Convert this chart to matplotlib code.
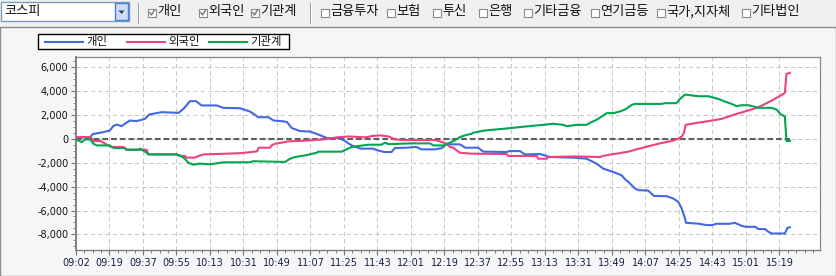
import matplotlib
matplotlib.use('Agg')
import matplotlib.pyplot as plt
from matplotlib.patches import Rectangle, Polygon
from matplotlib.lines import Line2D
from matplotlib.ticker import MultipleLocator, FuncFormatter

plt.rcParams['font.family'] = ['Noto Sans CJK KR', 'DejaVu Sans']

# ---- data ----
market = '코스피'
checked_items = ['개인', '외국인', '기관계']
unchecked_items = ['금융투자', '보험', '투신', '은행', '기타금융', '연기금등', '국가,지자체', '기타법인']

time_labels = ['09:02', '09:19', '09:37', '09:55', '10:13', '10:31', '10:49', '11:07',
               '11:25', '11:43', '12:01', '12:19', '12:37', '12:55', '13:13', '13:31',
               '13:49', '14:07', '14:25', '14:43', '15:01', '15:19']

series_names = ['개인', '외국인', '기관계']
series_colors = ['#4169e1', '#f0407f', '#00a651']

# x in units of tick-label intervals (0 = 09:02)
person_x = [0.0, 0.42, 0.5, 0.82, 1.01, 1.11, 1.21, 1.36, 1.46, 1.61, 1.81, 2.06, 2.19, 2.56,
            3.06, 3.21, 3.4, 3.58, 3.75, 4.2, 4.4, 4.89, 5.19, 5.34, 5.44, 5.74, 5.9, 6.2,
            6.3, 6.44, 6.69, 6.99, 7.3, 7.5, 7.87, 8.0, 8.23, 8.5, 8.87, 9.0, 9.2, 9.42,
            9.52, 9.85, 10.15, 10.32, 10.72, 10.92, 11.05, 11.46, 11.62, 12.0, 12.16, 12.85,
            12.95, 13.25, 13.4, 13.85, 14.15, 14.85, 15.24, 15.54, 15.74, 16.04, 16.29,
            16.39, 16.49, 16.69, 16.8, 17.08, 17.25, 17.63, 17.83, 17.98, 18.08, 18.18,
            18.21, 18.58, 18.83, 19.0, 19.1, 19.5, 19.67, 19.87, 20.0, 20.27, 20.37, 20.57,
            20.67, 20.77, 21.16, 21.24, 21.31]
person_y = [110, 110, 390, 550, 690, 1050, 1190, 1050, 1250, 1520, 1470, 1660, 2030, 2220,
            2160, 2500, 3140, 3140, 2780, 2780, 2580, 2550, 2280, 2000, 1800, 1800, 1520, 1450,
            1390, 890, 640, 600, 280, 50, 50, -140, -560, -830, -830, -970, -1110, -1110,
            -780, -750, -690, -890, -890, -780, -470, -470, -750, -750, -1080, -1110,
            -1030, -1030, -1310, -1280, -1530, -1580, -1670, -2080, -2500, -2780, -3060,
            -3390, -3610, -4170, -4300, -4330, -4780, -4800, -5000, -5280, -5830, -6670,
            -7030, -7100, -7220, -7220, -7110, -7110, -7030, -7280, -7360, -7360, -7550, -7550,
            -7780, -7920, -7920, -7440, -7400]

foreign_x = [0.0, 0.12, 0.42, 0.47, 0.52, 0.72, 0.82, 0.92, 1.07, 1.41, 1.51, 2.11, 2.16, 3.0,
             3.1, 3.25, 3.3, 3.55, 3.7, 3.8, 4.5, 4.94, 5.24, 5.4, 5.46, 5.79, 5.84, 5.94,
             6.14, 6.34, 6.79, 7.38, 7.78, 8.13, 8.63, 8.83, 9.08, 9.33, 9.52, 9.77, 10.72,
             10.82, 10.97, 11.06, 11.16, 11.26, 11.36, 11.46, 11.81, 12.85, 12.9, 13.75, 13.8,
             14.05, 14.1, 14.85, 15.64, 15.74, 15.94, 16.24, 16.52, 16.69, 17.08, 17.38,
             17.78, 17.98, 18.08, 18.15, 18.2, 18.48, 18.88, 19.27, 19.67, 20.07, 20.37,
             20.77, 21.07, 21.16, 21.21, 21.31]
foreign_y = [50, 140, 140, 0, -190, -190, -330, -500, -690, -690, -920, -920, -1310, -1310,
             -1440, -1440, -1580, -1580, -1400, -1310, -1250, -1200, -1110, -1060, -750, -750,
             -560, -420, -330, -220, -170, -60, 110, 190, 110, 220, 280, 190, -60, -110, -110,
             -190, -330, -420, -690, -750, -970, -1170, -1250, -1280, -1440, -1440, -1670,
             -1670, -1530, -1480, -1530, -1440, -1330, -1200, -1060, -920, -640, -420,
             -190, 0, 190, 500, 1160, 1300, 1470, 1660, 2030, 2360, 2630,
             3190, 3660, 3830, 5420, 5500]

inst_x = [0.0, 0.17, 0.27, 0.42, 0.47, 0.52, 0.62, 1.01, 1.06, 1.16, 1.46, 1.51, 1.86, 1.91,
          2.11, 2.16, 3.0, 3.1, 3.25, 3.35, 3.5, 3.7, 4.0, 4.4, 5.19, 5.29, 6.24, 6.39, 6.54,
          6.84, 7.19, 7.23, 7.93, 8.23, 8.43, 8.73, 9.12, 9.22, 9.33, 10.02, 10.57, 10.67,
          10.97, 11.16, 11.31, 11.46, 11.61, 11.81, 11.86, 12.21, 12.76, 13.45, 13.95, 14.25,
          14.55, 14.65, 14.95, 15.24, 15.39, 15.54, 15.74, 15.84, 16.04, 16.24, 16.39, 16.52,
          16.59, 16.69, 17.48, 17.58, 17.93, 18.03, 18.18, 18.58, 18.88, 19.17, 19.37, 19.57,
          19.72, 19.87, 20.07, 20.22, 20.37, 20.77, 20.92, 21.02, 21.16, 21.21, 21.31]
inst_y = [-60, -280, -60, -60, -220, -420, -560, -560, -690, -780, -780, -920, -920, -830,
          -1170, -1310, -1310, -1390, -1670, -2000, -2170, -2080, -2140, -1970, -1970, -1880,
          -1940, -1670, -1530, -1390, -1170, -1080, -1080, -690, -610, -500, -500, -330, -450,
          -390, -390, -560, -560, -330, -140, 140, 280, 420, 500, 690, 830, 1030, 1160, 1250,
          1160, 1050, 1160, 1160, 1390, 1580, 1940, 2140, 2140, 2280, 2440, 2690,
          2830, 2910, 2910, 2970, 2970, 3330, 3690, 3550, 3550, 3330, 3110, 2910,
          2720, 2800, 2800, 2700, 2580, 2580, 2420, 2080, 1860, -190, -190]

W, H = 837, 276


def fx(px):
    return px / W


def fy(py):
    return 1 - py / H


fig = plt.figure(figsize=(W / 100, H / 100), dpi=100, facecolor='#eff0f2')

# chart panel (behind the axes)
fig.add_artist(Rectangle((fx(0.5), fy(275.5)), fx(835.5), (275.5 - 27) / H, transform=fig.transFigure,
                         facecolor='#f5f6f8', edgecolor='#8c8c8c', lw=1, zorder=-5))

# ---- top bar ----
fig.add_artist(Rectangle((fx(1), fy(21)), fx(128), 19 / H, transform=fig.transFigure,
                         facecolor='white', edgecolor='#7f9db9', lw=1))
fig.add_artist(Rectangle((fx(115), fy(20)), fx(13), 17 / H, transform=fig.transFigure,
                         facecolor='#cfdcf7', edgecolor='#4a7fd4', lw=1))
fig.add_artist(Polygon([(fx(118.5), fy(10.5)), (fx(124.5), fy(10.5)), (fx(121.5), fy(14))],
                       closed=True, transform=fig.transFigure, facecolor='#3a3a5a', edgecolor='none'))
fig.text(fx(4), fy(12), market, fontsize=9.5, va='center', ha='left', color='#111111')

for sx in [138, 310]:
    fig.add_artist(Line2D([fx(sx), fx(sx)], [fy(3), fy(23)], transform=fig.transFigure, color='#9a9a9a', lw=0.8))
    fig.add_artist(Line2D([fx(sx + 1), fx(sx + 1)], [fy(3), fy(23)], transform=fig.transFigure, color='white', lw=0.8))

checked_pos = [148, 199, 251]
unchecked_pos = [321, 387, 433, 479, 524, 591, 657, 742]


def checkbox(px, label, on):
    fig.add_artist(Rectangle((fx(px), fy(17)), fx(8), 8 / H, transform=fig.transFigure,
                             facecolor='white', edgecolor='#8a8a8a', lw=0.8))
    if on:
        fig.add_artist(Line2D([fx(px + 1.8), fx(px + 3.5), fx(px + 6.5)], [fy(12.5), fy(15), fy(10)],
                              transform=fig.transFigure, color='#808080', lw=1.1))
    fig.text(fx(px + 9), fy(12), label, fontsize=9.5, va='center', ha='left', color='#111111')


for p, lab in zip(checked_pos, checked_items):
    checkbox(p, lab, True)
for p, lab in zip(unchecked_pos, unchecked_items):
    checkbox(p, lab, False)

# ---- legend ----
fig.add_artist(Rectangle((fx(38), fy(49)), fx(251), 15 / H, transform=fig.transFigure,
                         facecolor='white', edgecolor='black', lw=1))
leg_line_x = [45, 127, 209]
for lx, name, col in zip(leg_line_x, series_names, series_colors):
    fig.add_artist(Line2D([fx(lx), fx(lx + 38)], [fy(41.5), fy(41.5)], transform=fig.transFigure,
                          color=col, lw=1.5))
    fig.text(fx(lx + 41), fy(41), name, fontsize=8.2, va='center', ha='left', color='#111111')

# ---- plot ----
ax = fig.add_axes([fx(76), fy(250), (820 - 76) / W, (250 - 57) / H])
ax.set_facecolor('white')

ax.plot([person_x[0], person_x[-1]], [0, 0], color='#5f5f5f', lw=1.5, ls=(0, (2.8, 1.4)), zorder=2)
ax.plot(person_x, person_y, color=series_colors[0], lw=1.5, zorder=3)
ax.plot(foreign_x, foreign_y, color=series_colors[1], lw=1.5, zorder=3)
ax.plot(inst_x, inst_y, color=series_colors[2], lw=1.5, zorder=3)

ax.set_xlim(0, 22.21)
ax.set_ylim(-9300, 6830)
ax.set_xticks(range(len(time_labels)))
ax.set_xticklabels(time_labels)
ax.xaxis.set_minor_locator(MultipleLocator(0.25))
ax.yaxis.set_major_locator(MultipleLocator(2000))
ax.yaxis.set_minor_locator(MultipleLocator(500))
ax.yaxis.set_major_formatter(FuncFormatter(lambda v, p: f'{v:,.0f}'))

ax.grid(True, which='major', color='#c8c8c8', ls=(0, (4, 3)), lw=0.75, zorder=0)
ax.set_axisbelow(True)

for s in ['top', 'right']:
    ax.spines[s].set_color('#888888')
    ax.spines[s].set_linewidth(0.9)
ax.spines['left'].set_color('#808080')
ax.spines['left'].set_linewidth(1.4)
ax.spines['bottom'].set_color('#808080')
ax.spines['bottom'].set_linewidth(1.0)

ax.tick_params(axis='both', which='major', length=3.5, width=0.8, color='#707070', labelsize=7)
ax.tick_params(axis='both', which='minor', length=2, width=0.7, color='#808080')
ax.tick_params(axis='x', pad=2.5, labelcolor='#1c1c44')
ax.tick_params(axis='y', pad=2, labelcolor='#111111')
for lab in ax.get_xticklabels() + ax.get_yticklabels():
    lab.set_family('DejaVu Sans')

fig.savefig('out.png', dpi=100, facecolor=fig.get_facecolor())
